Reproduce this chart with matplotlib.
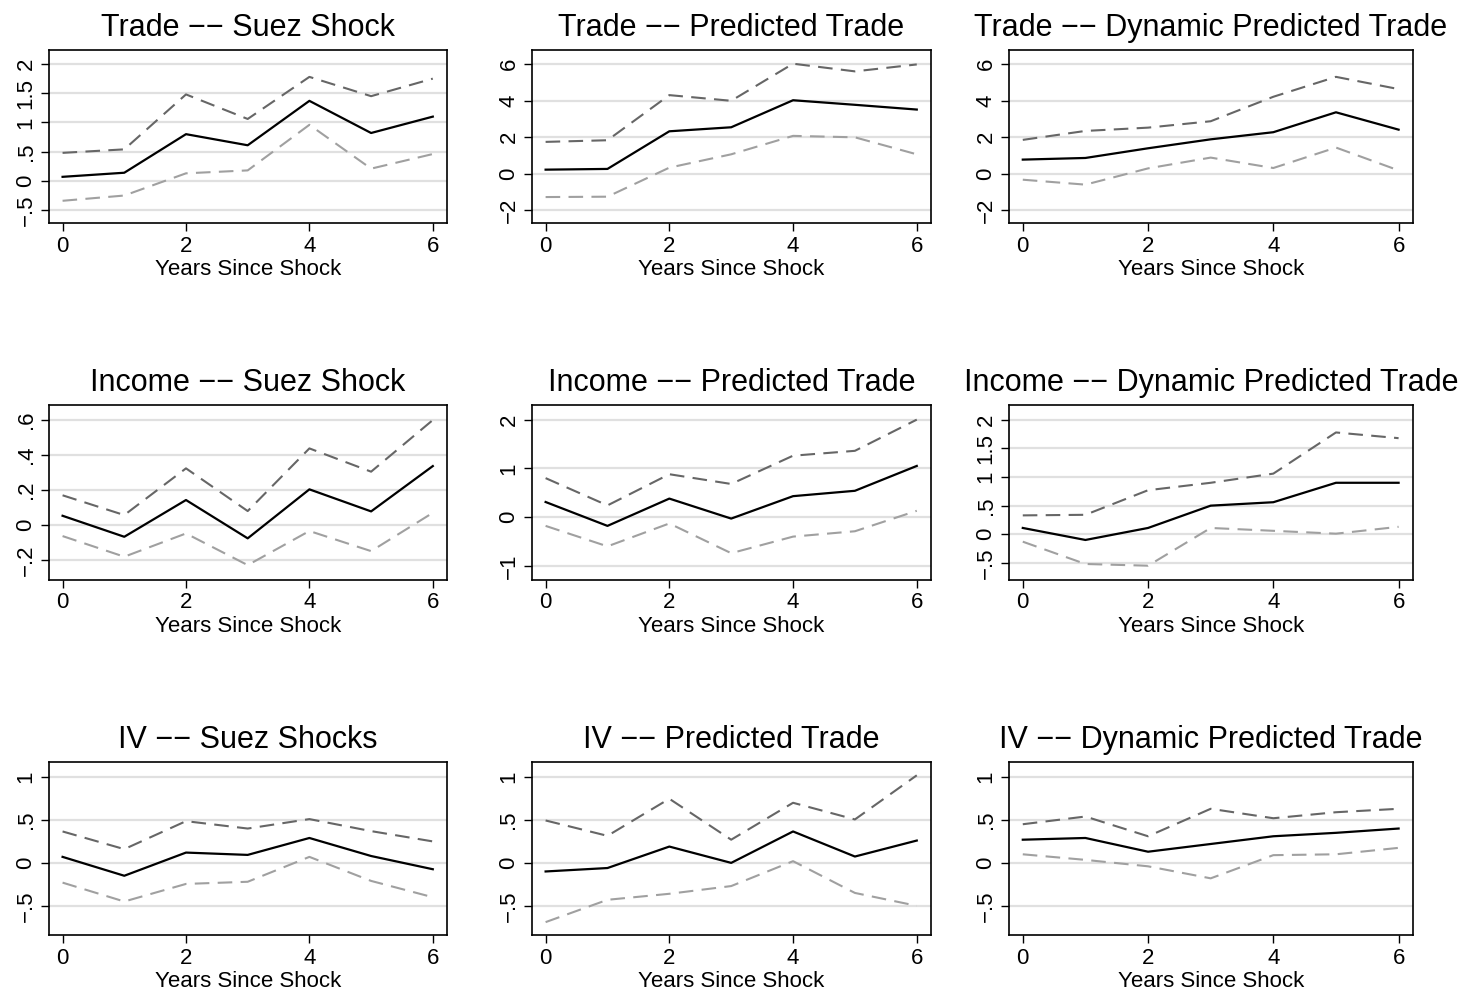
import matplotlib
matplotlib.use("Agg")
import matplotlib.pyplot as plt
import numpy as np

plt.rcParams['font.family'] = ['Liberation Sans', 'DejaVu Sans']

years = [0, 1, 2, 3, 4, 5, 6]

titles = [
    "Trade \u2212\u2212 Suez Shock", "Trade \u2212\u2212 Predicted Trade", "Trade \u2212\u2212 Dynamic Predicted Trade",
    "Income \u2212\u2212 Suez Shock", "Income \u2212\u2212 Predicted Trade", "Income \u2212\u2212 Dynamic Predicted Trade",
    "IV \u2212\u2212 Suez Shocks", "IV \u2212\u2212 Predicted Trade", "IV \u2212\u2212 Dynamic Predicted Trade",
]

# point estimates
trade_suez = [0.07, 0.14, 0.80, 0.61, 1.37, 0.82, 1.10]
trade_pred = [0.22, 0.26, 2.32, 2.54, 4.02, 3.77, 3.51]
trade_dyn = [0.77, 0.86, 1.39, 1.88, 2.27, 3.36, 2.41]
income_suez = [0.053, -0.067, 0.143, -0.076, 0.204, 0.078, 0.337]
income_pred = [0.31, -0.18, 0.38, -0.03, 0.43, 0.54, 1.05]
income_dyn = [0.11, -0.10, 0.11, 0.50, 0.56, 0.90, 0.90]
iv_suez = [0.07, -0.15, 0.12, 0.093, 0.29, 0.08, -0.074]
iv_pred = [-0.10, -0.06, 0.19, 0.0, 0.366, 0.074, 0.26]
iv_dyn = [0.27, 0.29, 0.13, 0.22, 0.31, 0.35, 0.40]

# upper bounds
trade_suez_hi = [0.48, 0.54, 1.48, 1.06, 1.78, 1.45, 1.75]
trade_pred_hi = [1.74, 1.83, 4.30, 3.99, 6.02, 5.60, 5.98]
trade_dyn_hi = [1.85, 2.34, 2.52, 2.87, 4.21, 5.30, 4.63]
income_suez_hi = [0.17, 0.057, 0.324, 0.08, 0.438, 0.305, 0.60]
income_pred_hi = [0.80, 0.24, 0.88, 0.68, 1.26, 1.36, 2.0]
income_dyn_hi = [0.33, 0.34, 0.77, 0.90, 1.06, 1.78, 1.68]
iv_suez_hi = [0.366, 0.16, 0.486, 0.40, 0.51, 0.37, 0.25]
iv_pred_hi = [0.494, 0.315, 0.747, 0.27, 0.70, 0.506, 1.02]
iv_dyn_hi = [0.45, 0.54, 0.31, 0.63, 0.52, 0.59, 0.63]

# lower bounds
trade_suez_lo = [-0.34, -0.25, 0.13, 0.18, 0.96, 0.21, 0.46]
trade_pred_lo = [-1.28, -1.26, 0.33, 1.06, 2.07, 1.99, 1.06]
trade_dyn_lo = [-0.33, -0.60, 0.29, 0.88, 0.31, 1.43, 0.18]
income_suez_lo = [-0.063, -0.181, -0.048, -0.229, -0.034, -0.149, 0.07]
income_pred_lo = [-0.18, -0.60, -0.13, -0.74, -0.40, -0.29, 0.13]
income_dyn_lo = [-0.13, -0.52, -0.55, 0.11, 0.06, 0.01, 0.13]
iv_suez_lo = [-0.23, -0.45, -0.245, -0.22, 0.07, -0.21, -0.40]
iv_pred_lo = [-0.69, -0.43, -0.36, -0.27, 0.02, -0.35, -0.50]
iv_dyn_lo = [0.10, 0.035, -0.04, -0.18, 0.09, 0.10, 0.175]

estimates = [trade_suez, trade_pred, trade_dyn, income_suez, income_pred, income_dyn, iv_suez, iv_pred, iv_dyn]
uppers = [trade_suez_hi, trade_pred_hi, trade_dyn_hi, income_suez_hi, income_pred_hi, income_dyn_hi,
          iv_suez_hi, iv_pred_hi, iv_dyn_hi]
lowers = [trade_suez_lo, trade_pred_lo, trade_dyn_lo, income_suez_lo, income_pred_lo, income_dyn_lo,
          iv_suez_lo, iv_pred_lo, iv_dyn_lo]

yticks = [
    [-0.5, 0, 0.5, 1, 1.5, 2], [-2, 0, 2, 4, 6], [-2, 0, 2, 4, 6],
    [-0.2, 0, 0.2, 0.4, 0.6], [-1, 0, 1, 2], [-0.5, 0, 0.5, 1, 1.5, 2],
    [-0.5, 0, 0.5, 1], [-0.5, 0, 0.5, 1], [-0.5, 0, 0.5, 1],
]
ylims = [
    (-0.72, 2.24), (-2.7, 6.77), (-2.7, 6.77),
    (-0.314, 0.686), (-1.29, 2.30), (-0.80, 2.26),
    (-0.84, 1.175), (-0.84, 1.175), (-0.84, 1.175),
]
xticks = [0, 2, 4, 6]


def stata_fmt(v):
    if abs(v - round(v)) < 1e-9:
        s = str(int(round(v)))
    else:
        s = ("%g" % v)
        s = s.replace("0.", ".")
    return s.replace("-", "\u2212")


W, H = 1464, 991
fig = plt.figure(figsize=(W / 100, H / 100), dpi=100)

col_px = [(49, 447), (532, 931), (1009, 1413)]
row_px = [(50, 223), (405, 580), (762, 935)]

for i in range(9):
    r, c = divmod(i, 3)
    x0, x1 = col_px[c]
    y0, y1 = row_px[r]
    ax = fig.add_axes([x0 / W, 1 - y1 / H, (x1 - x0) / W, (y1 - y0) / H])
    for yt in yticks[i]:
        ax.axhline(yt, color='#e0e0e0', lw=1.6, zorder=0)
    ax.plot(years, uppers[i], color='#666666', lw=1.5, dashes=(7, 4))
    ax.plot(years, estimates[i], color='black', lw=1.6)
    ax.plot(years, lowers[i], color='#a0a0a0', lw=1.5, dashes=(7, 4))
    ax.set_xlim(-0.22, 6.23)
    ax.set_ylim(*ylims[i])
    ax.set_xticks(xticks)
    ax.set_xticklabels([str(t) for t in xticks])
    ax.set_yticks(yticks[i])
    ax.set_yticklabels([stata_fmt(t) for t in yticks[i]], rotation=90, va='center')
    ax.tick_params(axis='both', direction='out', length=6, width=1, labelsize=16, pad=3)
    for sp in ax.spines.values():
        sp.set_linewidth(1.2)
        sp.set_color('black')
    ax.set_xlabel("Years Since Shock", fontsize=16, labelpad=2)
    ax.set_title(titles[i], fontsize=22, pad=10)

fig.savefig("out.png", dpi=100)
